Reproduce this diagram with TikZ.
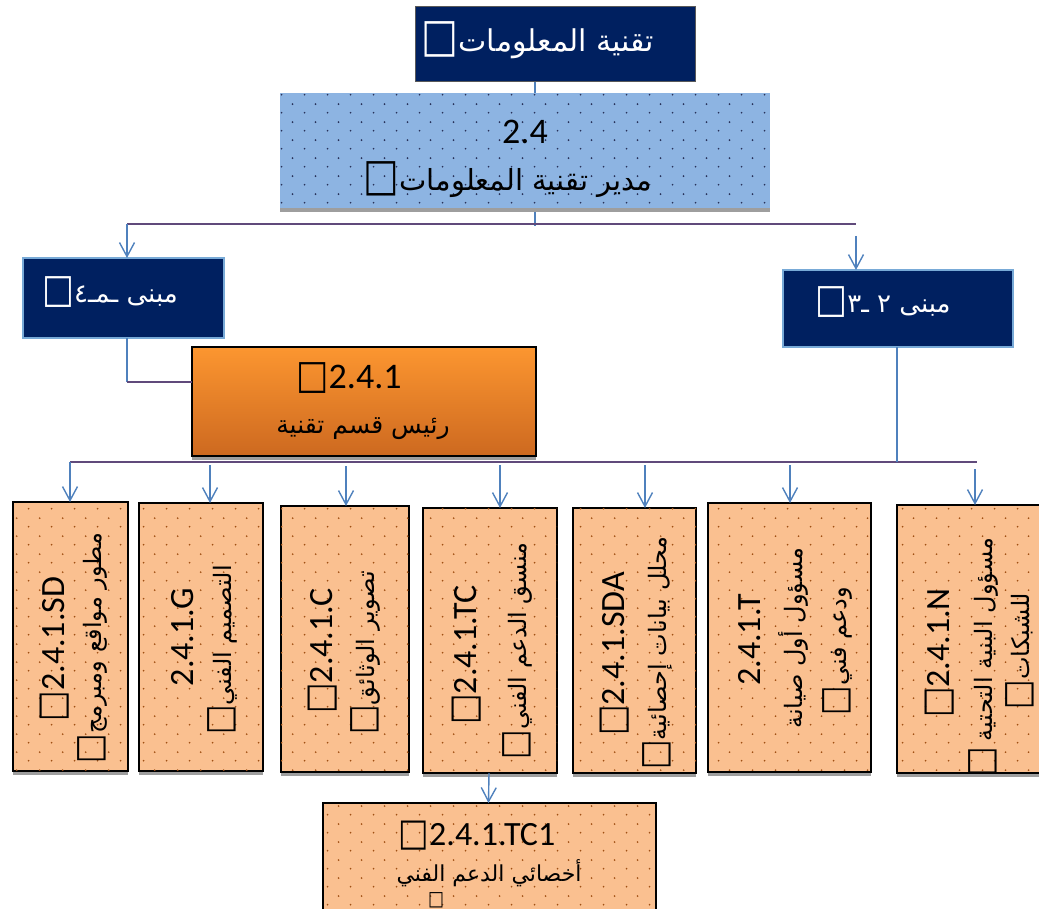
\documentclass[tikz,border=0pt]{standalone}
\usepackage{fontspec}
\usepackage{graphicx}
\setmainfont{Carlito}
\newfontfamily\arabicfont[Script=Arabic]{DejaVu Sans}
\newfontfamily\symfont{DejaVu Sans}
\TeXXeTstate=1
\usetikzlibrary{arrows.meta,shadows,patterns}
\definecolor{navy}{RGB}{0,32,96}
\definecolor{lblue}{RGB}{141,180,226}
\definecolor{navyedge}{RGB}{120,170,215}
\definecolor{peach}{RGB}{250,192,144}
\definecolor{dotbrown}{RGB}{160,80,20}
\definecolor{dotnavy}{RGB}{40,50,90}
\definecolor{linkblue}{RGB}{79,129,189}
\definecolor{linkpurple}{RGB}{96,74,123}
\definecolor{orgtop}{RGB}{252,150,48}
\definecolor{orgbot}{RGB}{205,105,32}
\pgfdeclarepatternformonly{stagdots}{\pgfpointorigin}{\pgfpoint{23pt}{18pt}}{\pgfpoint{23pt}{18pt}}{%
  \pgfpathcircle{\pgfpoint{5.75pt}{4.5pt}}{1pt}%
  \pgfpathcircle{\pgfpoint{17.25pt}{13.5pt}}{1pt}%
  \pgfusepath{fill}}
\newcommand\tofu{{\symfont\scalebox{0.95}[1.12]{□}}}
\newcommand\tofuA{{\symfont\scalebox{1.3}[1.55]{□}}}
\newcommand\artxt[1]{{\arabicfont\beginR #1\endR}}
\begin{document}
\begin{tikzpicture}[x=1pt,y=-1pt,
  every node/.style={inner sep=0pt,outer sep=0pt},
  shadowed/.style={drop shadow={shadow xshift=0pt,shadow yshift=-4pt,fill=black!38,opacity=1}},
  topbox/.style={fill=navy,draw=black!65,line width=1pt},
  navybox/.style={fill=navy,draw=navyedge,line width=1.3pt},
  bluebox/.style={fill=lblue,shadowed,postaction={pattern=stagdots,pattern color=dotnavy}},
  peachbox/.style={fill=peach,draw=black,line width=1.6pt,shadowed,postaction={pattern=stagdots,pattern color=dotbrown}},
  orgbox/.style={top color=orgtop,bottom color=orgbot,draw=black,line width=1.6pt,shadowed},
  numtxt/.style={font=\fontsize{34}{38}\selectfont},
  bignum/.style={font=\fontsize{36}{40}\selectfont},
  artx/.style={font=\fontsize{24}{28}\selectfont},
  vert/.style={rotate=90},
  lnk/.style={draw=linkblue,line width=1.4pt},
  arr/.style={lnk,-{Straight Barb[length=14pt,width=15pt,line width=1.4pt]}},
  bus/.style={draw=linkpurple,line width=2.8pt}]
\useasboundingbox (0,0) rectangle (1039,909);

% ---------- boxes ----------
\node[topbox,minimum width=280pt,minimum height=75pt] (top) at (555,44.5) {};
\node[bluebox,minimum width=490pt,minimum height=115pt] (blue) at (525,150.5) {};
\node[navybox,minimum width=201pt,minimum height=80pt] (lnavy) at (123.5,298) {};
\node[navybox,minimum width=230pt,minimum height=77pt] (rnavy) at (898,308.5) {};
\node[orgbox,minimum width=344pt,minimum height=109pt] (head) at (364,401.5) {};
\node[peachbox,minimum width=115pt,minimum height=269pt] (sd) at (70.5,636.5) {};
\node[peachbox,minimum width=124pt,minimum height=268pt] (g) at (201,637) {};
\node[peachbox,minimum width=128pt,minimum height=266pt] (c) at (345,639) {};
\node[peachbox,minimum width=134pt,minimum height=265pt] (tc) at (490,640.5) {};
\node[peachbox,minimum width=123pt,minimum height=265pt] (sda) at (634.5,640.5) {};
\node[peachbox,minimum width=163pt,minimum height=269pt] (t) at (789.5,637.5) {};
\node[peachbox,minimum width=148pt,minimum height=268pt] (n) at (971,639) {};
\node[peachbox,minimum width=333pt,minimum height=117pt] (tc1) at (489.5,861.5) {};

% ---------- texts ----------
\node[text=white,font=\fontsize{30}{34}\selectfont] (topT) at (538,40) {\tofuA\artxt{تقنية المعلومات}};
\node[bignum] (blueN) at (525,132) {2.4};
\node[font=\fontsize{29}{33}\selectfont] (blueA) at (508,180) {\tofuA\artxt{مدير تقنية المعلومات}};
\node[text=white,font=\fontsize{26}{30}\selectfont] (lnavyT) at (110,292) {\tofuA\artxt{مبنى ـمـ٤}};
\node[text=white,font=\fontsize{26}{30}\selectfont] (rnavyT) at (883,302) {\tofuA\artxt{مبنى ٢ ـ٣}};
\node[bignum] (headN) at (349,378) {\tofu 2.4.1};
\node[font=\fontsize{25}{29}\selectfont] (headA) at (363,429) {\artxt{رئيس قسم تقنية}};

\node[numtxt,vert] (sdN) at (55,649) {\tofu 2.4.1.SD};
\node[artx,vert] (sdA) at (92,648) {\tofuA\artxt{مطور مواقع ومبرمج}};
\node[numtxt,vert] (gN) at (183,637) {2.4.1.G};
\node[artx,vert] (gA) at (222,650) {\tofuA\artxt{التصميم الفني}};
\node[numtxt,vert] (cN) at (323,651) {\tofu 2.4.1.C};
\node[artx,vert] (cA) at (365,653) {\tofuA\artxt{تصوير الوثائق}};
\node[numtxt,vert] (tcN) at (467,655) {\tofu 2.4.1.TC};
\node[artx,vert] (tcA) at (517,651) {\tofuA\artxt{منسق الدعم الفني}};
\node[numtxt,vert] (sdaN) at (615,654) {\tofu 2.4.1.SDA};
\node[artx,vert] (sdaA) at (657,653) {\tofuA\artxt{محلل بيانات إحصائية}};
\node[numtxt,vert] (tN) at (750,640) {2.4.1.T};
\node[artx,vert] (tA1) at (793,638) {\artxt{مسؤول أول صيانة}};
\node[artx,vert] (tA2) at (837,651) {\tofuA\artxt{ودعم فني}};
\node[numtxt,vert] (nN) at (940,653) {\tofu 2.4.1.N};
\node[artx,vert] (nA1) at (983,657) {\tofuA\ \artxt{مسؤول البنية التحتية}};
\node[artx,vert] (nA2) at (1020,651) {\tofuA\artxt{للشبكات}};
\node[numtxt] (tc1N) at (477,836) {\tofu 2.4.1.TC1};
\node[font=\fontsize{22}{26}\selectfont] (tc1A) at (489,873) {\artxt{أخصائي الدعم الفني}};
\node[font=\fontsize{13}{15}\selectfont] (tc1T) at (436,900) {\tofuA};

% ---------- connectors ----------
\draw[lnk] ([xshift=-20pt]top.south) -- ([xshift=-20pt]top.south |- blue.north);
\coordinate (b1L) at (127,224);
\coordinate (b1R) at (856,224);
\coordinate (b1M) at (535,224);
\draw[lnk] ([xshift=10pt,yshift=-4pt]blue.south) -- ([yshift=-2pt]b1M);
\draw[bus] (b1L) -- (b1R);
\draw[arr] (b1L) -- (b1L |- lnavy.north);
\draw[arr] ([yshift=-12pt]b1R) -- (b1R |- rnavy.north);

\coordinate (elb) at (127,382);
\draw[lnk] ([xshift=3.5pt]lnavy.south) -- (elb);
\draw[bus,line width=2.2pt] (elb) -- (elb -| head.west);

\coordinate (b2L) at (70,462);
\coordinate (b2R) at (977,462);
\draw[bus] (b2L) -- (b2R);
\draw[lnk] ([xshift=-1pt]rnavy.south) -- ([xshift=-1pt]rnavy.south |- b2L);

\draw[arr] (b2L) -- (70,0 |- sd.north);
\draw[arr] (210,465) -- (210,0 |- g.north);
\draw[arr] (346,466) -- (346,0 |- c.north);
\draw[arr] (500,465) -- (500,0 |- tc.north);
\draw[arr] (645,465) -- (645,0 |- sda.north);
\draw[arr] (790,465) -- (790,0 |- t.north);
\draw[arr] (975,469) -- (975,0 |- n.north);
\draw[arr] ([xshift=-1pt]tc.south) -- ([xshift=-1pt]tc1.north);
\end{tikzpicture}
\end{document}
